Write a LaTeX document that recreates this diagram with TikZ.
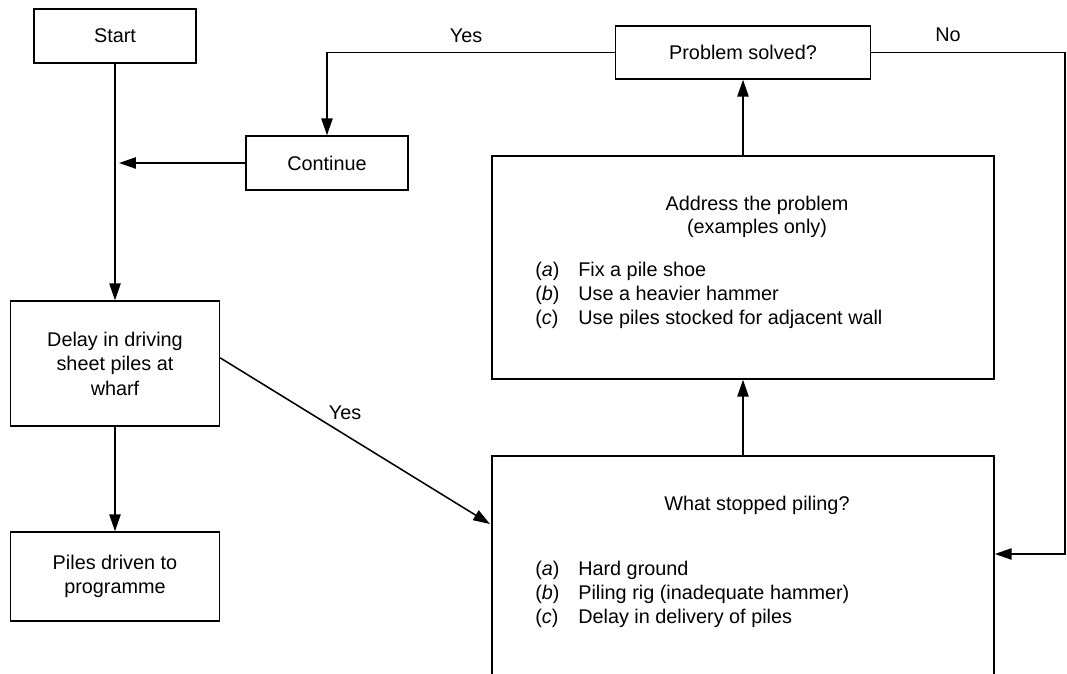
\documentclass[tikz,border=0pt]{standalone}
\usepackage{fontspec}
\setmainfont{Liberation Sans}
\usetikzlibrary{arrows.meta}

\tikzset{
  box/.style={draw, line width=1pt, inner sep=0pt, align=center},
  link/.style={line width=1.1pt, -{Triangle[length=4.2mm,width=2.8mm]}},
  plain/.style={line width=1.1pt},
  item/.style={anchor=base west, inner sep=0pt},
}

\begin{document}
\begin{tikzpicture}[x=0.025cm, y=-0.025cm, font=\fontsize{14.1}{17.4}\selectfont]
\useasboundingbox (0,0) rectangle (1067,674);
\clip (0,0) rectangle (1067,674);

\node[box, minimum width=4.05cm, minimum height=1.35cm] (start) at (115,36) {Start};
\node[box, minimum width=4.05cm, minimum height=1.35cm] (cont) at (327,163) {Continue};
\node[box, minimum width=6.375cm, minimum height=1.325cm] (solved) at (743,52.5) {Problem solved?};
\node[box, minimum width=5.225cm, minimum height=3.125cm] (delay) at (115,363.5) {Delay in driving\\sheet piles at\\wharf};
\node[box, minimum width=5.225cm, minimum height=2.225cm] (piles) at (115,576.5) {Piles driven to\\programme};
\node[box, minimum width=12.55cm, minimum height=5.575cm] (address) at (743,267.5) {};
\node[box, minimum width=12.55cm, minimum height=6.6cm] (stopped) at (743,588) {};

\node[align=center, font=\fontsize{14.1}{16.4}\selectfont] (addtitle) at (757,216.5) {Address the problem\\(examples only)};
\node (stoptitle) at (757,505) {What stopped piling?};
\foreach \l/\t [count=\k from 0] in {a/Fix a pile shoe, b/Use a heavier hammer, c/Use piles stocked for adjacent wall} {
  \node[item] (fixtag\l) at (535, 277+24*\k) {(\textit{\l})};
  \node[item] (fix\l) at (578, 277+24*\k) {\t};
}
\foreach \l/\t [count=\k from 0] in {a/Hard ground, b/Piling rig (inadequate hammer), c/Delay in delivery of piles} {
  \node[item] (causetag\l) at (535, 576+24*\k) {(\textit{\l})};
  \node[item] (cause\l) at (578, 576+24*\k) {\t};
}

\coordinate (join) at (115,163);
\coordinate (noturn) at (1065,554);
\coordinate (yesend) at (490,524);

\draw[link] (start) -- (delay);
\draw[link] (delay) -- (piles);
\draw[link] (cont.west) -- ([xshift=0.1cm]join);
\draw[link] (solved.west) -| (cont.north);
\draw[link] (solved.east) -| (noturn) -- (noturn -| stopped.east);
\draw[link] (stopped.north) -- (address.south);
\draw[link] (address.north) -- (solved.south);
\draw[link] ([yshift=0.14cm]delay.east) -- (yesend);

\node (yessolved) at (466,36) {Yes};
\node (nosolved) at (948,35) {No};
\node (yesdelay) at (345,413) {Yes};
\end{tikzpicture}
\end{document}
